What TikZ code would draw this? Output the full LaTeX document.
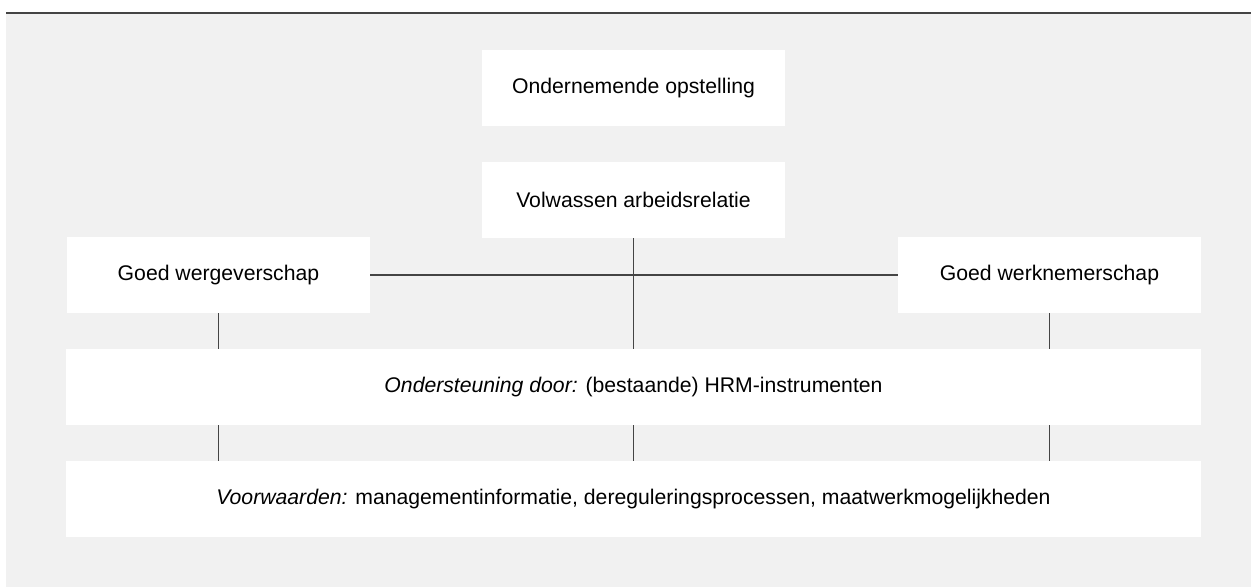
\documentclass[tikz,border=0pt]{standalone}
\usepackage{fontspec}
\setmainfont{Liberation Sans}
\definecolor{achtergrond}{HTML}{F1F1F1}
\definecolor{lijn}{HTML}{444444}
\tikzset{
  blok/.style={fill=white, inner sep=0pt, minimum width=227.25pt, minimum height=57pt},
  breedblok/.style={blok, minimum width=851.25pt},
  verbinding/.style={draw=lijn, line width=1.2pt}
}
\begin{document}
\begin{tikzpicture}[x=0.75pt, y=-0.75pt, font=\fontsize{15.9}{19}\selectfont]
    \useasboundingbox (0,0) rectangle (1251,587);
    \fill[achtergrond] (6,13) rectangle (1251,587);
    \draw[lijn, line width=1.2pt] (6,13) -- (1251,13);
    % blokken
    \node[blok] (opstelling) at (633.5,88)  {Ondernemende opstelling};
    \node[blok] (relatie)    at (633.5,200) {Volwassen arbeidsrelatie};
    \node[blok] (werkgever)  at (218.5,275) {Goed wergeverschap};
    \node[blok] (werknemer)  at (1049.5,275) {Goed werknemerschap};
    \node[breedblok] (steun) at (633.5,387) {{\itshape Ondersteuning door:} (bestaande) HRM-instrumenten};
    \node[breedblok] (voorwaarden) at (633.5,499) {{\itshape Voorwaarden:} managementinformatie, dereguleringsprocessen, maatwerkmogelijkheden};
    % verbindingen
    \draw[verbinding] (werkgever) -- (werknemer);
    \draw[verbinding] (relatie.south) -- (steun.north);
    \foreach \b in {werkgever, werknemer}
      \draw[verbinding] (\b.south) -- (\b.south |- steun.north);
    \foreach \b in {werkgever, relatie, werknemer}
      \draw[verbinding] (\b.south |- steun.south) -- (\b.south |- voorwaarden.north);
\end{tikzpicture}
\end{document}
